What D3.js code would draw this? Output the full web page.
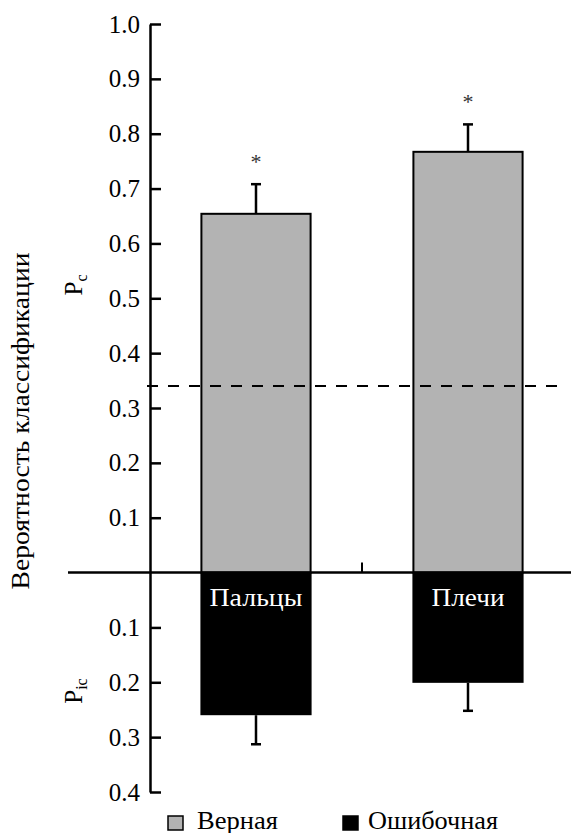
<!DOCTYPE html>
<html>
<head>
<script src="https://cdn.jsdelivr.net/npm/d3@7"></script>
</head>
<body style="margin:0">
<svg id="chart" width="571" height="833"></svg>
<script>
// categories and values
var categories = ["Пальцы", "Плечи"];
var correct = [0.654, 0.767];        // P_c, grey bars (upwards)
var correctErr = [0.054, 0.050];
var incorrect = [0.260, 0.201];      // P_ic, black bars (downwards)
var incorrectErr = [0.053, 0.051];
var signif = ["*", "*"];
var chance = 0.34;
var tickValues = [-0.4, -0.3, -0.2, -0.1, 0.1, 0.2, 0.3, 0.4, 0.5, 0.6, 0.7, 0.8, 0.9, 1.0];
var legendKeys = ["Верная", "Ошибочная"];

function serif(sel, size){
  return sel.style("font-family", "'Liberation Serif'").style("font-size", size + "px");
}

function drawChart(){
  var svg = d3.select("#chart");
  var grey = "#b3b3b3";

  var x = d3.scaleBand()
      .domain(categories)
      .range([150, 574])
      .padding(0);

  var y = d3.scaleLinear()
      .domain([-0.4, 1.0])
      .range([792, 24]);

  var barW = x.bandwidth() * 0.515;

  // grey bars (correct)
  svg.append("g")
    .selectAll("rect")
    .data(categories)
    .enter().append("rect")
      .attr("x", function(d){ return x(d) + (x.bandwidth() - barW) / 2; })
      .attr("y", function(d,i){ return y(correct[i]); })
      .attr("width", barW)
      .attr("height", function(d,i){ return y(0) - y(correct[i]); })
      .attr("fill", grey)
      .attr("stroke", "#000")
      .attr("stroke-width", 2);

  // black bars (incorrect)
  svg.append("g")
    .selectAll("rect")
    .data(categories)
    .enter().append("rect")
      .attr("x", function(d){ return x(d) + (x.bandwidth() - barW) / 2 - 1; })
      .attr("y", y(0))
      .attr("width", barW + 2)
      .attr("height", function(d,i){ return y(-incorrect[i]) - y(0); })
      .attr("fill", "#000");

  // error bars up and down
  var eb = svg.append("g").attr("stroke", "#000").attr("stroke-width", 2.5);
  categories.forEach(function(d, i){
    var cx = x(d) + x.bandwidth() / 2;
    var top = y(correct[i] + correctErr[i]);
    var bot = y(-incorrect[i] - incorrectErr[i]);
    eb.append("line").attr("x1", cx).attr("x2", cx).attr("y1", y(correct[i])).attr("y2", top);
    eb.append("line").attr("x1", cx - 5).attr("x2", cx + 5).attr("y1", top).attr("y2", top);
    eb.append("line").attr("x1", cx).attr("x2", cx).attr("y1", y(-incorrect[i])).attr("y2", bot);
    eb.append("line").attr("x1", cx - 5).attr("x2", cx + 5).attr("y1", bot).attr("y2", bot);
  });

  // significance stars
  serif(svg.append("g")
    .selectAll("text")
    .data(signif)
    .enter().append("text")
      .attr("x", function(d,i){ return x(categories[i]) + x.bandwidth() / 2; })
      .attr("y", function(d,i){ return y(correct[i] + correctErr[i]) - 15; })
      .attr("text-anchor", "middle")
      .attr("fill", "#333")
      .text(function(d){ return d; }), 22);

  // category labels inside black bars
  var labelLen = [93, 73];
  serif(svg.append("g")
    .selectAll("text")
    .data(categories)
    .enter().append("text")
      .attr("x", function(d){ return x(d) + x.bandwidth() / 2; })
      .attr("y", y(0) + 33)
      .attr("text-anchor", "middle")
      .attr("textLength", function(d,i){ return labelLen[i]; })
      .attr("lengthAdjust", "spacingAndGlyphs")
      .attr("fill", "#fff")
      .text(function(d){ return d; }), 25);

  // chance level
  svg.append("line")
    .attr("x1", 147).attr("x2", 566)
    .attr("y1", y(chance)).attr("y2", y(chance))
    .attr("stroke", "#000")
    .attr("stroke-width", 2)
    .attr("stroke-dasharray", "11,10");

  // zero line
  svg.append("line")
    .attr("x1", 68).attr("x2", 571)
    .attr("y1", y(0)).attr("y2", y(0))
    .attr("stroke", "#000")
    .attr("stroke-width", 2.5);

  // tick between categories
  svg.append("line")
    .attr("x1", x(categories[1])).attr("x2", x(categories[1]))
    .attr("y1", y(0) - 10).attr("y2", y(0))
    .attr("stroke", "#000")
    .attr("stroke-width", 2);

  // y axis
  var axis = svg.append("g")
      .attr("transform", "translate(150,0)")
      .call(d3.axisLeft(y)
        .tickValues(tickValues)
        .tickFormat(function(d){ return d3.format(".1f")(Math.abs(d)); })
        .tickSizeInner(-11)
        .tickSizeOuter(0)
        .tickPadding(10));
  axis.select(".domain").attr("stroke-width", 2.5);
  axis.selectAll(".tick line").attr("stroke-width", 2.5);
  serif(axis.selectAll(".tick text").attr("fill", "#000"), 25);

  // axis titles
  serif(svg.append("text")
    .attr("transform", "translate(29,421) rotate(-90)")
    .attr("text-anchor", "middle")
    .attr("textLength", 337)
    .attr("lengthAdjust", "spacingAndGlyphs")
    .text("Вероятность классификации"), 25);

  var pc = serif(svg.append("text")
    .attr("transform", "translate(82,285) rotate(-90)")
    .attr("text-anchor", "middle"), 25);
  pc.append("tspan").text("P");
  pc.append("tspan").style("font-size", "16px").attr("dy", 5).text("c");

  var pic = serif(svg.append("text")
    .attr("transform", "translate(82,691) rotate(-90)")
    .attr("text-anchor", "middle"), 25);
  pic.append("tspan").text("P");
  pic.append("tspan").style("font-size", "16px").attr("dy", 5).text("ic");

  // legend
  var legendX = [168, 343];
  var legendLen = [81, 130];
  var legend = svg.append("g")
    .selectAll("g")
    .data(legendKeys)
    .enter().append("g")
      .attr("transform", function(d,i){ return "translate(" + legendX[i] + ",816)"; });

  legend.append("rect")
    .attr("width", 15)
    .attr("height", 14)
    .attr("fill", function(d,i){ return i === 0 ? grey : "#000"; })
    .attr("stroke", "#000")
    .attr("stroke-width", 1.5);

  serif(legend.append("text")
    .attr("x", function(d,i){ return i === 0 ? 29 : 25; })
    .attr("y", 13)
    .attr("textLength", function(d,i){ return legendLen[i]; })
    .attr("lengthAdjust", "spacingAndGlyphs")
    .text(function(d){ return d; }), 25);
}

drawChart();
</script>
</body>
</html>
